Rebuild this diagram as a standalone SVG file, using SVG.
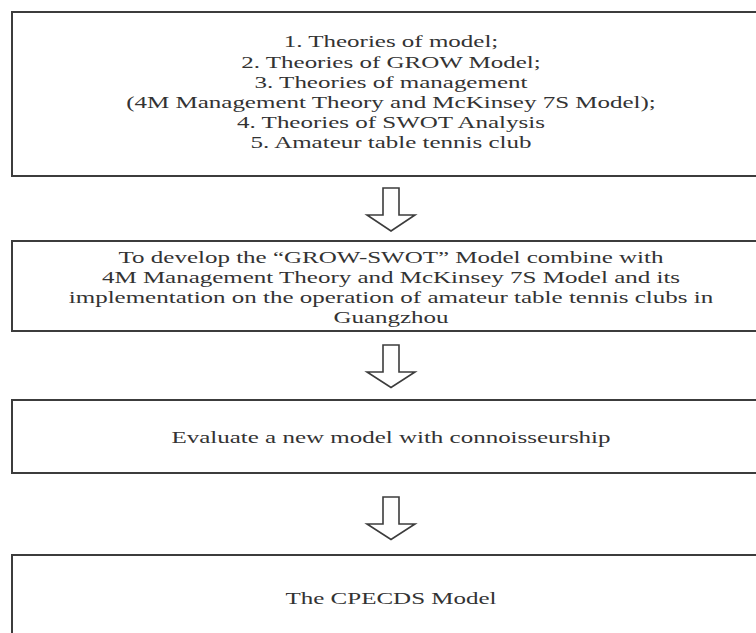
<svg xmlns="http://www.w3.org/2000/svg" width="756" height="633" viewBox="0 0 756 633">
  <style>
    .box { fill: #ffffff; stroke: #3c3c3c; stroke-width: 2; }
    .arrow { fill: #ffffff; stroke: #3c3c3c; stroke-width: 1.6; stroke-linejoin: miter; }
    .t { font-family: "Liberation Serif", "Times New Roman", serif; font-size: 16px; fill: #333333; text-anchor: middle; }
  </style>
  <rect width="756" height="633" fill="#ffffff"/>

  <g id="node-theories">
    <rect class="box" x="12" y="12" width="758" height="164"/>
    <g transform="translate(391,0) scale(1.5625,1)">
      <text class="t" x="0" y="47.5">1. Theories of model;</text>
      <text class="t" x="0" y="67.6">2. Theories of GROW Model;</text>
      <text class="t" x="0" y="87.7">3. Theories of management</text>
      <text class="t" x="0" y="107.8">(4M Management Theory and McKinsey 7S Model);</text>
      <text class="t" x="0" y="127.9">4. Theories of SWOT Analysis</text>
      <text class="t" x="0" y="148">5. Amateur table tennis club</text>
    </g>
  </g>

  <g id="node-develop">
    <rect class="box" x="12" y="241" width="758" height="90"/>
    <g transform="translate(391,0) scale(1.5625,1)">
      <text class="t" x="0" y="262.7">To develop the “GROW-SWOT” Model combine with</text>
      <text class="t" x="0" y="282.9">4M Management Theory and McKinsey 7S Model and its</text>
      <text class="t" x="0" y="303.1">implementation on the operation of amateur table tennis clubs in</text>
      <text class="t" x="0" y="323.3">Guangzhou</text>
    </g>
  </g>

  <g id="node-evaluate">
    <rect class="box" x="12" y="400" width="758" height="73"/>
    <g transform="translate(391,0) scale(1.5625,1)">
      <text class="t" x="0" y="443.5">Evaluate a new model with connoisseurship</text>
    </g>
  </g>

  <g id="node-cpecds">
    <rect class="box" x="12" y="555" width="758" height="100"/>
    <g transform="translate(391,0) scale(1.5625,1)">
      <text class="t" x="0" y="603.7">The CPECDS Model</text>
    </g>
  </g>

  <g id="connectors">
    <path class="arrow" d="M383,188 L399,188 L399,215 L415,215 L391,231 L367,215 L383,215 Z"/>
    <path class="arrow" d="M383,345 L399,345 L399,372 L415,372 L391,387.5 L367,372 L383,372 Z"/>
    <path class="arrow" d="M383,497 L399,497 L399,524 L415,524 L391,539.5 L367,524 L383,524 Z"/>
  </g>
</svg>
